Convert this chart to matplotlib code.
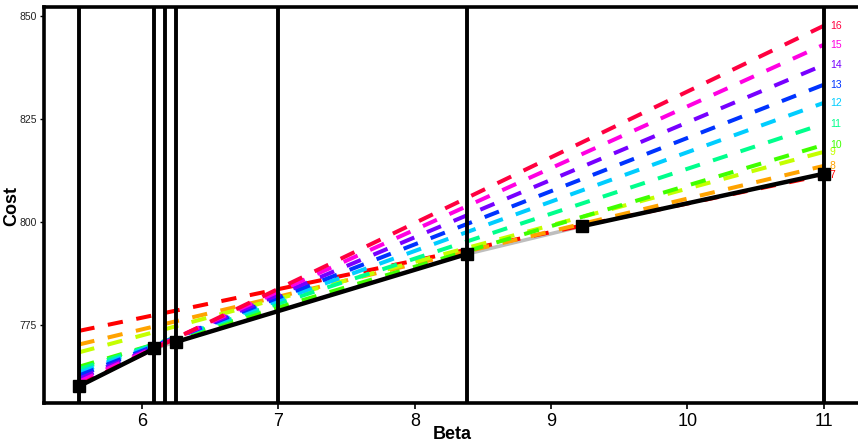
import matplotlib
matplotlib.use("Agg")
import matplotlib.pyplot as plt

# line levels and their cost at the two ends of the beta range
levels = [7, 8, 9, 10, 11, 12, 13, 14, 15, 16]
beta_range = [5.54, 11.0]
cost_start = [773.6, 770.3, 768.4, 764.9, 764.3, 763.5, 762.8, 762.0, 761.3, 760.5]
cost_end = [811.4, 813.6, 817.0, 818.7, 823.8, 828.9, 833.3, 838.1, 843.0, 847.6]
line_colors = ["#FF0000", "#FFA300", "#C4FF00", "#40FF00", "#00FF8C",
               "#00CDFF", "#0033FF", "#7700FF", "#FF00E2", "#FF0040"]

# lower envelope break points
env_beta = [5.54, 6.09, 6.25, 8.38, 9.23, 11.0]
env_cost = [760.2, 769.3, 770.9, 792.2, 799.0, 811.7]
env_gray = [False, True, False, True, False]  # segment drawn in gray

# vertical marker lines
vlines = [5.54, 6.09, 6.17, 6.25, 7.0, 8.38, 11.0]

xticks = [6, 7, 8, 9, 10, 11]
yticks = [775, 800, 825, 850]

fam = ["Liberation Sans", "DejaVu Sans"]

fig = plt.figure(figsize=(8.58, 4.44), dpi=100)
ax = fig.add_axes([0.0513, 0.0923, 0.9487, 0.8913])

for lev, c0, c1, col in zip(levels, cost_start, cost_end, line_colors):
    ax.plot(beta_range, [c0, c1], color=col, lw=2.9, dashes=(3.8, 3.4),
            solid_capstyle="butt", dash_capstyle="butt", zorder=2)
    ax.text(11.045, c1, str(lev), color=col, fontsize=7.5, family=fam,
            ha="left", va="center", clip_on=False, zorder=6)

for i, gray in enumerate(env_gray):
    ax.plot(env_beta[i:i + 2], env_cost[i:i + 2],
            color="#BEBEBE" if gray else "black",
            lw=2.6 if gray else 3.2, solid_capstyle="butt",
            zorder=1.5 if gray else 3)

for v in vlines:
    ax.axvline(v, color="black", lw=2.8, zorder=4)

ax.plot(env_beta, env_cost, ls="none", marker="s", ms=8.5, color="black", zorder=5)

ax.set_xlim(5.28, 11.252)
ax.set_ylim(756.07, 852.1)
ax.set_xticks(xticks)
ax.set_yticks(yticks)
ax.set_xticklabels([str(t) for t in xticks], family=fam, fontsize=13)
ax.set_yticklabels([str(t) for t in yticks], family=fam, fontsize=7.5, color="#222222")
ax.tick_params(axis="x", length=4, width=1.2, pad=3)
ax.tick_params(axis="y", length=3, width=1.0, pad=2)

for side in ["left", "top", "bottom"]:
    ax.spines[side].set_linewidth(2.6)
ax.spines["right"].set_visible(False)

fig.text(452 / 858, 1 - 434 / 444, "Beta", family=fam,
         fontsize=13, fontweight="bold", ha="center", va="center")
fig.text(12 / 858, 1 - 206 / 444, "Cost", family=fam, fontsize=13,
         fontweight="bold", rotation=90, ha="center", va="center")

fig.savefig("out.png", dpi=100)
